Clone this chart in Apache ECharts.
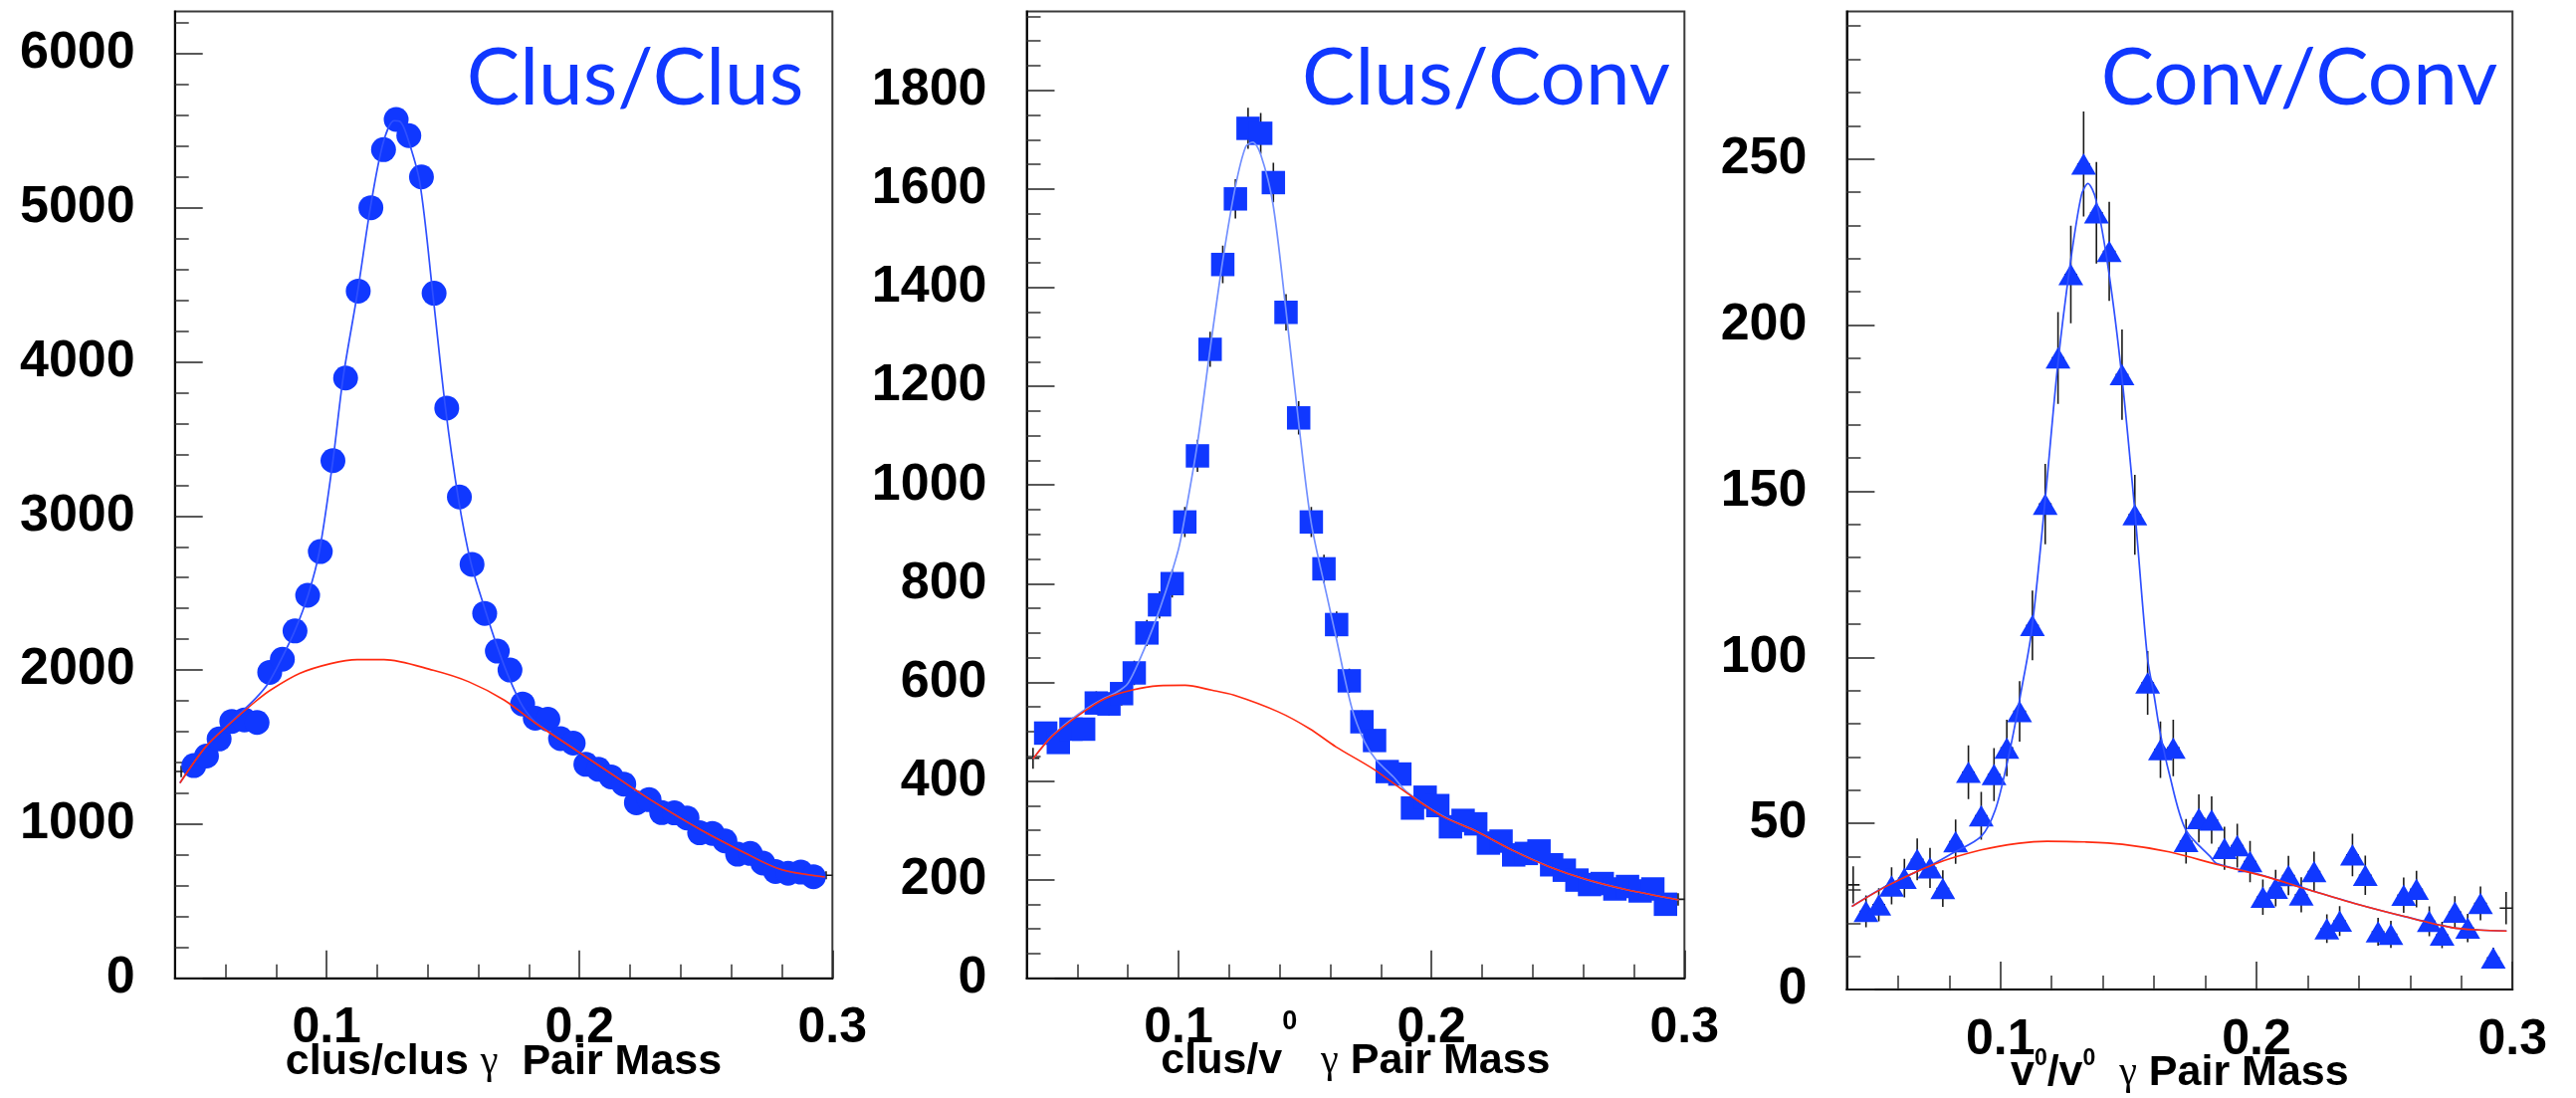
<!DOCTYPE html>
<html>
<head>
<meta charset="utf-8">
<title>γ pair mass spectra</title>
<script src="https://cdn.jsdelivr.net/npm/echarts@6/dist/echarts.min.js"></script>
<style>
  html, body { margin: 0; padding: 0; background: #ffffff; }
  #chart { width: 2588px; height: 1103px; }
</style>
</head>
<body>
<div id="chart"></div>
<script>
// ---- histogram bins (pair mass, bin width 0.005) ----
const massBins = [0.0425, 0.0475, 0.0525, 0.0575, 0.0625, 0.0675, 0.0725, 0.0775, 0.0825, 0.0875,
  0.0925, 0.0975, 0.1025, 0.1075, 0.1125, 0.1175, 0.1225, 0.1275, 0.1325, 0.1375,
  0.1425, 0.1475, 0.1525, 0.1575, 0.1625, 0.1675, 0.1725, 0.1775, 0.1825, 0.1875,
  0.1925, 0.1975, 0.2025, 0.2075, 0.2125, 0.2175, 0.2225, 0.2275, 0.2325, 0.2375,
  0.2425, 0.2475, 0.2525, 0.2575, 0.2625, 0.2675, 0.2725, 0.2775, 0.2825, 0.2875,
  0.2925, 0.2975];
const binHalfWidth = 0.0025;

// ---- clus/clus pairs ----
const countsClusClus = [1342,
  1380, 1442, 1553, 1667, 1676, 1660, 1985, 2070, 2254, 2485,
  2769, 3359, 3895, 4459, 5000, 5377, 5573, 5468, 5200, 4445,
  3700, 3123, 2686, 2368, 2123, 2000, 1780, 1688, 1681, 1555,
  1526, 1388, 1356, 1307, 1260, 1139, 1159, 1075, 1073, 1040,
  944, 940, 891, 805, 810, 748, 693, 681, 689, 659,
  668];
const errorsClusClus = [36.6,
  37.1, 38.0, 39.4, 40.8, 40.9, 40.7, 44.6, 45.5, 47.5, 49.8,
  52.6, 58.0, 62.4, 66.8, 70.7, 73.3, 74.7, 73.9, 72.1, 66.7,
  60.8, 55.9, 51.8, 48.7, 46.1, 44.7, 42.2, 41.1, 41.0, 39.4,
  39.1, 37.3, 36.8, 36.2, 35.5, 33.7, 34.0, 32.8, 32.8, 32.2,
  30.7, 30.7, 29.8, 28.4, 28.5, 27.3, 26.3, 26.1, 26.2, 25.7,
  25.8];
const fitMassClusClus = [0.042, 0.0523, 0.062, 0.0717, 0.0769, 0.0822, 0.0875, 0.0928, 0.0972, 0.1025,
  0.1065, 0.1123, 0.1173, 0.1223, 0.1267, 0.129, 0.1317, 0.1368, 0.142, 0.147,
  0.152, 0.157, 0.1625, 0.1675, 0.1725, 0.1775, 0.1826, 0.1984, 0.216, 0.2301,
  0.2477, 0.2653, 0.2794, 0.297];
const fitTotalClusClus = [1268, 1505, 1660, 1812, 1913, 2075, 2258, 2494, 2775, 3360,
  3895, 4459, 5000, 5418, 5565, 5560, 5470, 5168, 4440, 3700,
  3123, 2700, 2400, 2150, 1935, 1765, 1662, 1484, 1290, 1138,
  966, 815, 708, 657];
const bgMassClusClus = [0.042, 0.0523, 0.062, 0.0717, 0.0778, 0.0893, 0.1016, 0.1121, 0.1227, 0.1421,
  0.1562, 0.1702, 0.1826, 0.1984, 0.216, 0.2301, 0.2477, 0.2653, 0.2794, 0.297];
const bgFitClusClus = [1267, 1504, 1655, 1794, 1870, 1978, 2042, 2068, 2068, 1999,
  1924, 1805, 1655, 1482, 1289, 1137, 965, 814, 707, 657];

// ---- clus/v0 pairs ----
const countsClusConv = [446,
  497, 478, 505, 505, 558, 556, 577, 619, 700, 757,
  800, 925, 1059, 1275, 1447, 1580, 1723, 1713, 1613, 1350,
  1136, 925, 830, 717, 603, 520, 482, 419, 414, 345,
  367, 350, 307, 320, 313, 274, 278, 250, 253, 258,
  230, 219, 199, 190, 192, 181, 186, 177, 181, 150,
  160];
const errorsClusConv = [21.1,
  22.3, 21.9, 22.5, 22.5, 23.6, 23.6, 24.0, 24.9, 26.5, 27.5,
  28.3, 30.4, 32.5, 35.7, 38.0, 39.7, 41.5, 41.4, 40.2, 36.7,
  33.7, 30.4, 28.8, 26.8, 24.6, 22.8, 22.0, 20.5, 20.3, 18.6,
  19.2, 18.7, 17.5, 17.9, 17.7, 16.6, 16.7, 15.8, 15.9, 16.1,
  15.2, 14.8, 14.1, 13.8, 13.9, 13.5, 13.6, 13.3, 13.5, 12.2,
  12.6];
const fitMassClusConv = [0.0425, 0.05, 0.06, 0.07, 0.075, 0.08, 0.085, 0.09, 0.095, 0.1,
  0.1025, 0.1075, 0.1125, 0.1175, 0.1225, 0.1265, 0.1293, 0.1325, 0.1373, 0.1424,
  0.1474, 0.1524, 0.1588, 0.1623, 0.1684, 0.1735, 0.1781, 0.185, 0.1904, 0.2044,
  0.2177, 0.2326, 0.2466, 0.2607, 0.2767, 0.2977];
const fitTotalClusConv = [445, 491, 534, 566, 578, 598, 650, 712, 785, 870,
  935, 1085, 1275, 1455, 1605, 1685, 1695, 1670, 1571, 1358,
  1131, 925, 772, 691, 550, 480, 443, 408, 377, 329,
  298, 258, 226, 201, 180, 159];
const bgMassClusConv = [0.0425, 0.0499, 0.0605, 0.071, 0.0815, 0.0921, 0.1026, 0.1131, 0.1219, 0.1395,
  0.1518, 0.1623, 0.1771, 0.1904, 0.2044, 0.2177, 0.2326, 0.2466, 0.2607, 0.2767, 0.2977];
const bgFitClusConv = [445, 490, 533, 567, 584, 593, 594, 584, 574, 540,
  506, 469, 424, 375, 328, 298, 258, 226, 201, 180, 159];

// ---- v0/v0 pairs ----
const countsConvConv = [31.5,
  23.5, 25.5, 31.2, 33.5, 39.2, 36.6, 30.4, 44.5, 65.4, 52.3,
  64.7, 72.7, 83.7, 109.6, 146.1, 190.1, 215.2, 248.5, 233.8, 222.2,
  185.1, 142.9, 92.3, 72.2, 72.7, 44.6, 51.5, 51.0, 42.5, 43.3,
  38.5, 27.8, 30.5, 34.3, 28.5, 35.5, 18.3, 20.6, 40.5, 34.4,
  17.4, 16.6, 28.4, 30.2, 20.5, 16.4, 23.3, 18.5, 25.9, 9.5,
  24.5];
const errorsConvConv = [5.6,
  4.8, 5.0, 5.6, 5.8, 6.3, 6.0, 5.5, 6.7, 8.1, 7.2,
  8.0, 8.5, 9.1, 10.5, 12.1, 13.8, 14.7, 15.8, 15.3, 14.9,
  13.6, 12.0, 9.6, 8.5, 8.5, 6.7, 7.2, 7.1, 6.5, 6.6,
  6.2, 5.3, 5.5, 5.9, 5.3, 6.0, 4.3, 4.5, 6.4, 5.9,
  4.2, 4.1, 5.3, 5.5, 4.5, 4.0, 4.8, 4.3, 5.1, 3.1,
  4.9];
const fitMassConvConv = [0.042, 0.0558, 0.0741, 0.0815, 0.0925, 0.098, 0.1026, 0.1053, 0.1077, 0.1122,
  0.1173, 0.1224, 0.1272, 0.1316, 0.1342, 0.1373, 0.1424, 0.1475, 0.1525, 0.1574,
  0.1601, 0.1622, 0.1659, 0.1723, 0.1824, 0.1843, 0.2026, 0.221, 0.2393, 0.2577,
  0.276, 0.287, 0.2977];
const fitTotalConvConv = [25.0, 31.3, 37.9, 41.1, 46.1, 54.1, 68.1, 78.1, 88.1, 108,
  146, 188, 218, 239, 242.6, 237.8, 215.6, 184, 144, 100,
  88.1, 78.1, 65.1, 48.2, 39.6, 38.0, 34.3, 29.9, 25.7, 22.0,
  18.7, 17.9, 17.6];
const bgMassConvConv = [0.042, 0.0558, 0.0741, 0.0925, 0.1072, 0.1182, 0.1329, 0.1476, 0.1659, 0.1843,
  0.2026, 0.221, 0.2393, 0.2577, 0.276, 0.287, 0.2977];
const bgFitConvConv = [25.0, 31.2, 37.7, 42.0, 44.0, 44.6, 44.4, 43.7, 41.4, 37.7,
  34.2, 29.9, 25.7, 22.0, 18.7, 17.9, 17.6];

// ---- axis ticks ----
const massMin = 0.04, massMax = 0.3;
const massMajorTicks = [0.1, 0.2, 0.3];
const massMinorTicks = [0.06, 0.08, 0.12, 0.14, 0.16, 0.18, 0.22, 0.24, 0.26, 0.28];
const yTicksClusClus = [0, 1000, 2000, 3000, 4000, 5000, 6000];
const yTicksClusConv = [0, 200, 400, 600, 800, 1000, 1200, 1400, 1600, 1800];
const yTicksConvConv = [0, 50, 100, 150, 200, 250];

const FONT = 'Liberation Sans, Arial, Helvetica, sans-serif';
const BLUE = '#1038ff';

const panels = [
  {
    counts: countsClusClus, errors: errorsClusClus,
    fitMass: fitMassClusClus, fitTotal: fitTotalClusClus,
    bgMass: bgMassClusClus, bgFit: bgFitClusClus,
    yMax: 6274, yTicks: yTicksClusClus, yMinorStep: 200,
    grid: { left: 175.7, top: 11.5, width: 660.6, height: 971.2 },
    symbol: 'circle', symbolSize: 25, fitColor: '#2f50ff',
    label: 'Clus/Clus', labelX: 638, titleY: 1067,
    axisTitle: '{t|clus/clus }{g|γ}{t|  Pair Mass}', supSize: 27, supRaise: 0
  },
  {
    counts: countsClusConv, errors: errorsClusConv,
    fitMass: fitMassClusConv, fitTotal: fitTotalClusConv,
    bgMass: bgMassClusConv, bgFit: bgFitClusConv,
    yMax: 1960, yTicks: yTicksClusConv, yMinorStep: 50,
    grid: { left: 1031.5, top: 11.5, width: 660.8, height: 971.2 },
    symbol: 'rect', symbolSize: 23.5, fitColor: '#7390ff',
    label: 'Clus/Conv', labelX: 1493, titleY: 1066,
    axisTitle: '{t|clus/v}{s|0}{t|  }{g|γ}{t| Pair Mass}', supSize: 27, supRaise: 39
  },
  {
    counts: countsConvConv, errors: errorsConvConv,
    fitMass: fitMassConvConv, fitTotal: fitTotalConvConv,
    bgMass: bgMassConvConv, bgFit: bgFitConvConv,
    yMax: 294.4, yTicks: yTicksConvConv, yMinorStep: 10,
    grid: { left: 1855.4, top: 11.5, width: 668.8, height: 982.5 },
    symbol: 'triangle', symbolSize: [25, 21.5], fitColor: '#2f50ff',
    label: 'Conv/Conv', labelX: 2310, titleY: 1078,
    axisTitle: '{t|v}{s|0}{t|/v}{s|0}{t|  }{g|γ}{t| Pair Mass}', supSize: 23, supRaise: 14
  }
];

function minorValues(step, max, majors) {
  const out = [];
  for (let k = 1; k * step < max; k++) {
    const v = +(k * step).toFixed(6);
    if (majors.indexOf(v) < 0) out.push(v);
  }
  return out;
}

const grids = [], xAxes = [], yAxes = [], series = [], graphics = [];

panels.forEach((p, i) => {
  grids.push(Object.assign({
    show: true, borderColor: '#3a3a3a', borderWidth: 2, backgroundColor: 'transparent',
    containLabel: false, outerBoundsMode: 'none'
  }, p.grid));

  const baseX = { type: 'value', gridIndex: i, min: massMin, max: massMax, position: 'bottom', offset: 0,
    splitLine: { show: false }, minorTick: { show: false } };
  xAxes.push(Object.assign({}, baseX, {
    axisLine: { show: true, onZero: false, lineStyle: { color: '#000', width: 2 } },
    axisTick: { show: true, inside: true, length: 28, customValues: massMajorTicks, lineStyle: { color: '#222', width: 1.5 } },
    axisLabel: { show: true, customValues: massMajorTicks, margin: 26, color: '#000',
      fontFamily: FONT, fontWeight: 'bold', fontSize: 50, formatter: v => String(v) }
  }));
  xAxes.push(Object.assign({}, baseX, {
    axisLine: { show: false },
    axisTick: { show: true, inside: true, length: 14, customValues: massMinorTicks, lineStyle: { color: '#333', width: 1.5 } },
    axisLabel: { show: false }
  }));

  const baseY = { type: 'value', gridIndex: i, min: 0, max: p.yMax, position: 'left', offset: 0,
    splitLine: { show: false }, minorTick: { show: false } };
  yAxes.push(Object.assign({}, baseY, {
    axisLine: { show: true, onZero: false, lineStyle: { color: '#000', width: 2 } },
    axisTick: { show: true, inside: true, length: 28, customValues: p.yTicks, lineStyle: { color: '#222', width: 1.5 } },
    axisLabel: { show: true, customValues: p.yTicks, margin: 40, color: '#000',
      fontFamily: FONT, fontWeight: 'bold', fontSize: 52, formatter: v => String(v) }
  }));
  yAxes.push(Object.assign({}, baseY, {
    axisLine: { show: false },
    axisTick: { show: true, inside: true, length: 14,
      customValues: minorValues(p.yMinorStep, p.yMax, p.yTicks), lineStyle: { color: '#333', width: 1.5 } },
    axisLabel: { show: false }
  }));

  const xi = 2 * i, yi = 2 * i;
  const histo = massBins.map((m, k) => [m, p.counts[k], p.errors[k]]);

  // error bars (vertical stat. error, horizontal bin width)
  series.push({
    type: 'custom', xAxisIndex: xi, yAxisIndex: yi, z: 1, clip: true, silent: true,
    data: histo,
    renderItem: (params, api) => {
      const x = api.value(0), y = api.value(1), e = api.value(2);
      const top = api.coord([x, y + e]), bot = api.coord([x, y - e]);
      const lft = api.coord([x - binHalfWidth, y]), rgt = api.coord([x + binHalfWidth, y]);
      const st = { stroke: '#1a1a1a', lineWidth: 1.6 };
      return { type: 'group', children: [
        { type: 'line', shape: { x1: top[0], y1: top[1], x2: bot[0], y2: bot[1] }, style: st },
        { type: 'line', shape: { x1: lft[0], y1: lft[1], x2: rgt[0], y2: rgt[1] }, style: st }
      ] };
    }
  });

  // markers (the two edge bins carry only their error cross)
  series.push({
    type: 'scatter', xAxisIndex: xi, yAxisIndex: yi, z: 2, silent: true,
    symbol: p.symbol, symbolSize: p.symbolSize,
    itemStyle: { color: BLUE, opacity: 1 },
    data: histo.slice(1, -1).map(d => [d[0], d[1]])
  });

  // signal + background fit
  series.push({
    type: 'line', xAxisIndex: xi, yAxisIndex: yi, z: 3, silent: true, clip: true,
    showSymbol: false, smooth: 0.3,
    lineStyle: { color: p.fitColor, width: 1.7 },
    data: p.fitMass.map((m, k) => [m, p.fitTotal[k]])
  });

  // background component
  series.push({
    type: 'line', xAxisIndex: xi, yAxisIndex: yi, z: 4, silent: true, clip: true,
    showSymbol: false, smooth: 0.3,
    lineStyle: { color: '#ff2a10', width: 1.6 },
    data: p.bgMass.map((m, k) => [m, p.bgFit[k]])
  });

  // pair-type label
  graphics.push({
    type: 'text', x: p.labelX, y: 79, silent: true,
    style: { text: p.label, fill: BLUE, fontFamily: 'Lato, Open Sans, sans-serif', fontSize: 80,
      align: 'center', verticalAlign: 'middle', textAlign: 'center', textVerticalAlign: 'middle' }
  });

  // x-axis title
  graphics.push({
    type: 'text', x: p.grid.left + p.grid.width / 2, y: p.titleY, silent: true,
    style: {
      text: p.axisTitle, align: 'center', verticalAlign: 'middle', textAlign: 'center', textVerticalAlign: 'middle',
      rich: {
        t: { fill: '#000', fontFamily: FONT, fontWeight: 'bold', fontSize: 43 },
        g: { fill: '#000', fontFamily: 'Liberation Serif, Times New Roman, serif', fontSize: 40 },
        s: { fill: '#000', fontFamily: FONT, fontWeight: 'bold', fontSize: p.supSize,
             padding: [0, 0, 2 * p.supRaise, 0] }
      }
    }
  });
});

const chart = echarts.init(document.getElementById('chart'), null, { renderer: 'canvas', width: 2588, height: 1103 });
chart.setOption({
  animation: false,
  backgroundColor: '#ffffff',
  grid: grids,
  xAxis: xAxes,
  yAxis: yAxes,
  series: series,
  graphic: graphics
});
</script>
</body>
</html>
